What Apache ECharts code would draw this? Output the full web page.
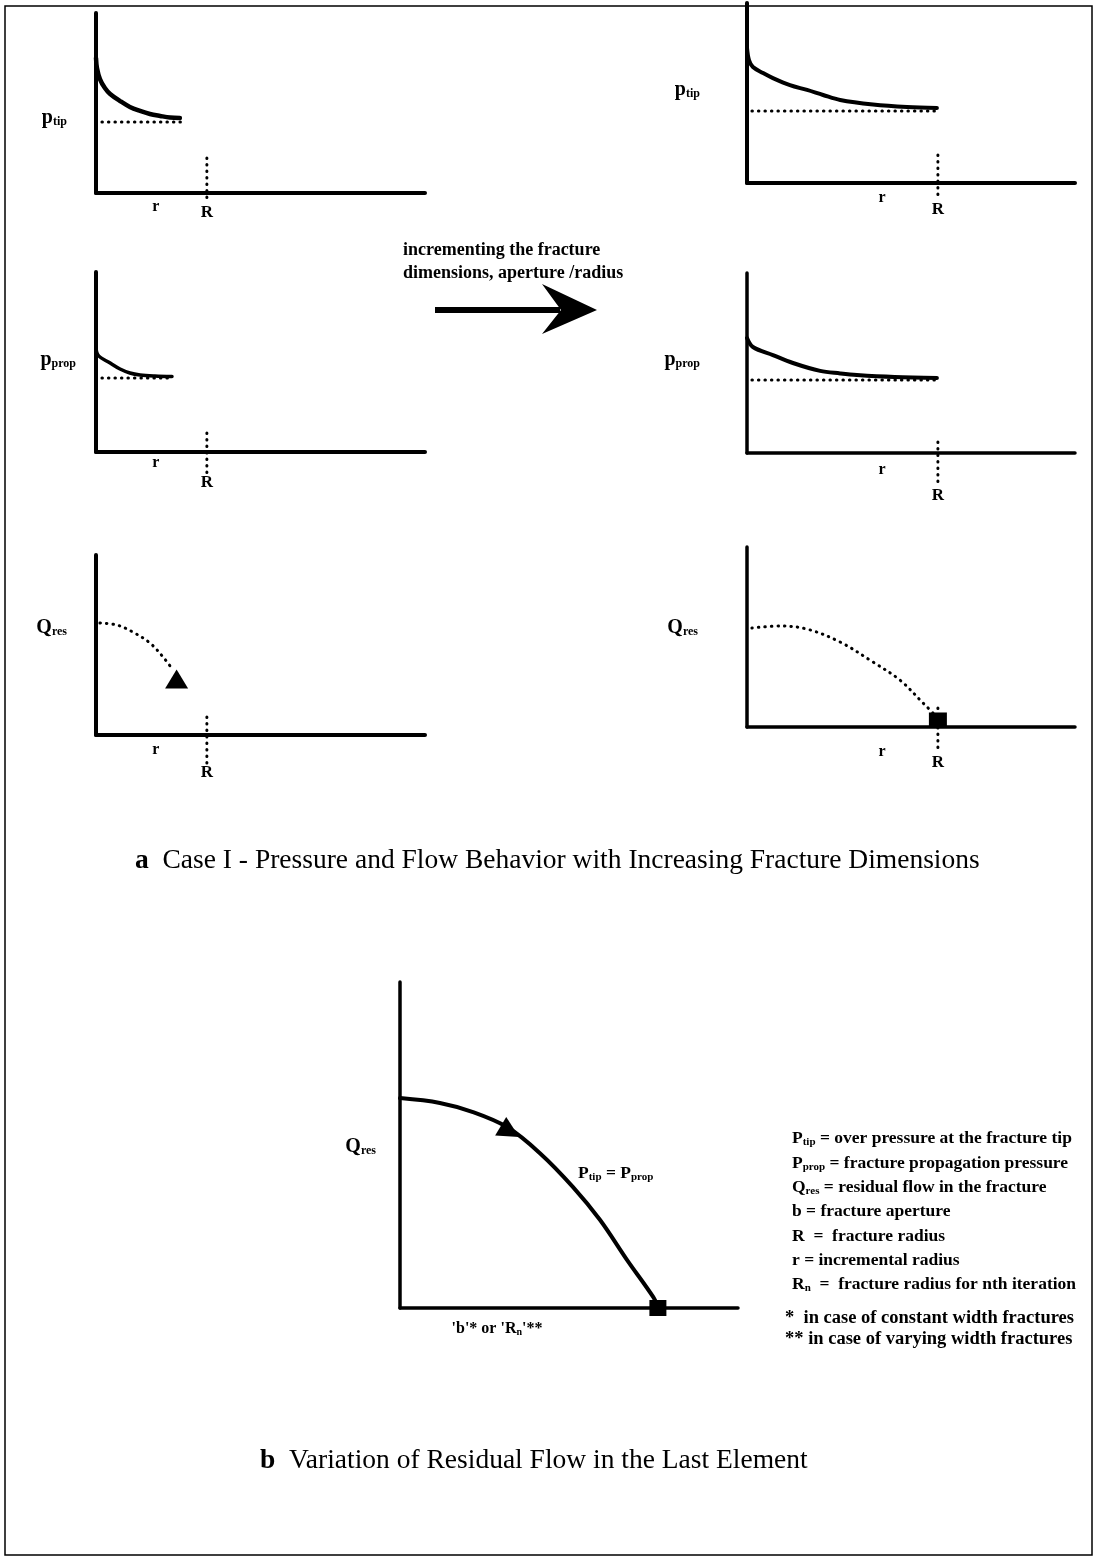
<!DOCTYPE html>
<html>
<head>
<meta charset="utf-8">
<script src="https://cdn.jsdelivr.net/npm/echarts@6/dist/echarts.min.js"></script>
<style>
  html, body { margin: 0; padding: 0; background: #fff; }
  #chart { width: 1095px; height: 1558px; }
</style>
</head>
<body>
<div id="chart"></div>
<script>
// ---- values (normalised units: r 0..100 along each axis, pressure/flow 0..100) ----
const radiusSmall = 33.7;          // R before the fracture is enlarged
const radiusLarge = 58.2;          // R after the fracture is enlarged
const rLabelSmall = 18.2;
const rLabelLarge = 41.2;

// tip over-pressure along r
const ptipSmall = [[0,75],[0.3,69.4],[1.2,63.3],[2.7,58.3],[4.3,55],[7.3,51.1],[10.3,47.8],[13.4,45.6],[16.4,43.9],[19.5,42.8],[22.5,41.9],[25.5,41.7]];
const ptipSmallLevel = [[1.8,39.4],[26.1,39.4]];
const ptipLarge = [[0,75],[0.6,68.3],[1.8,64.4],[4.9,61.1],[7.9,58.3],[13.1,54.4],[18.3,51.7],[23.2,48.9],[28.4,46.1],[38.4,43.6],[48.8,42.2],[57.9,41.7]];
const ptipLargeLevel = [[1.5,40],[58.8,40]];

// propagation pressure along r
const ppropSmall = [[0,59.4],[0.6,53.9],[4.3,49.4],[7.3,46.1],[10.3,43.9],[13.4,42.8],[17.9,42.2],[23.1,41.9]];
const ppropSmallLevel = [[1.8,41.1],[23.1,41.1]];
const ppropLarge = [[0,63.9],[1.8,58.9],[7.9,54.4],[14,50],[22.3,45.6],[28.4,44.2],[33.5,43.3],[45,42.2],[57.9,41.7]];
const ppropLargeLevel = [[1.5,40.6],[57.9,40.6]];

// residual flow along r
const qresSmall = [[1.2,62.2],[6.4,61.1],[11.2,57.2],[16.4,51.1],[20.4,43.3],[23.4,36.1]];
const qresSmallEnd = [24.5,31.1];
const qresLarge = [[1.5,55],[10.1,56.1],[18.3,54.4],[28.4,47.2],[38.4,36.1],[46.6,26.1],[53.7,13.3],[56.7,7.8]];
const qresLargeEnd = [58.2,3.9];

// residual flow in the last element vs b / Rn
const qresLast = [[0,64.4],[11.8,62.9],[21.6,60.1],[31.7,55.5],[41.4,47.5],[51.2,37.1],[59.2,27],[67.2,14.7],[74.9,3.4],[76.3,0.3]];
const qresLastArrow = [31.7,55.5];
const qresLastEnd = [76.3,0];
const bAxisLabelAt = 28.7;

// R markers: dotted verticals through the r axis
const rMarkSmall = [[radiusSmall,19.4],[radiusSmall,-5.6]];
const rMarkLarge2 = [[radiusLarge,15.6],[radiusLarge,-9.4]];
const rMarkSmall3 = [[radiusSmall,10.6],[radiusSmall,-11.7]];
const rMarkLarge4 = [[radiusLarge,6.1],[radiusLarge,-18.3]];
const rMarkSmall5 = [[radiusSmall,10],[radiusSmall,-15.6]];
const rMarkLarge6 = [[radiusLarge,10.6],[radiusLarge,-14.4]];

// ---- drawing ----
const FONT = '"Liberation Serif", "Times New Roman", serif';
const BLACK = '#000';
const DOTS = [0.5, 6];

const chart = echarts.init(document.getElementById('chart'), null, { renderer: 'canvas' });

const panels = [
  { left: 96,  top: 13,  width: 329, height: 180, axisW: 4 },
  { left: 747, top: 3,   width: 328, height: 180, axisW: 4 },
  { left: 96,  top: 272, width: 329, height: 180, axisW: 4 },
  { left: 747, top: 273, width: 328, height: 180, axisW: 3.5 },
  { left: 96,  top: 555, width: 329, height: 180, axisW: 4 },
  { left: 747, top: 547, width: 328, height: 180, axisW: 3.5 },
  { left: 400, top: 982, width: 338, height: 326, axisW: 3.5 }
];

const rich = {
  m: { fontFamily: FONT, fontSize: 20, fontWeight: 'bold', color: BLACK },
  q: { fontFamily: FONT, fontSize: 20, fontWeight: 'bold', color: BLACK },
  s: { fontFamily: FONT, fontSize: 12, fontWeight: 'bold', color: BLACK, padding: [8, 0, 0, 0] },
  r: { fontFamily: FONT, fontSize: 16, fontWeight: 'bold', color: BLACK },
  b: { fontFamily: FONT, fontSize: 17.5, fontWeight: 'bold', color: BLACK },
  bs: { fontFamily: FONT, fontSize: 11, fontWeight: 'bold', color: BLACK, padding: [8, 0, 0, 0] },
  x: { fontFamily: FONT, fontSize: 16, fontWeight: 'bold', color: BLACK },
  xs: { fontFamily: FONT, fontSize: 10, fontWeight: 'bold', color: BLACK, padding: [7, 0, 0, 0] }
};

// y-axis names, placed at a given level with a margin from the axis
const yNames = [
  { at: 41.7, text: '{m|p}{s|tip}', margin: 29 },
  { at: 51.7, text: '{m|p}{s|tip}', margin: 47 },
  { at: 51.1, text: '{m|p}{s|prop}', margin: 20 },
  { at: 51.7, text: '{m|p}{s|prop}', margin: 47 },
  { at: 59.4, text: '{q|Q}{s|res}', margin: 29 },
  { at: 55,   text: '{q|Q}{s|res}', margin: 49 },
  { at: 49.4, text: '{q|Q}{s|res}', margin: 24 }
];
const xNames = [
  { at: rLabelSmall, text: '{r|r}', margin: 6 },
  { at: rLabelLarge, text: '{r|r}', margin: 7 },
  { at: rLabelSmall, text: '{r|r}', margin: 3 },
  { at: rLabelLarge, text: '{r|r}', margin: 9 },
  { at: rLabelSmall, text: '{r|r}', margin: 7 },
  { at: rLabelLarge, text: '{r|r}', margin: 17 },
  { at: bAxisLabelAt, text: "{x|'b'* or 'R}{xs|n}{x|'**}", margin: 12 }
];

const grid = panels.map(p => ({ left: p.left, top: p.top, width: p.width, height: p.height, outerBoundsMode: 'none' }));
const xAxis = panels.map((p, i) => ({
  type: 'value', gridIndex: i, min: 0, max: 100,
  splitLine: { show: false }, axisTick: { show: false },
  axisLine: { show: true, onZero: false, lineStyle: { color: BLACK, width: p.axisW } },
  axisLabel: { customValues: [xNames[i].at], margin: xNames[i].margin, formatter: () => xNames[i].text, rich }
}));
const yAxis = panels.map((p, i) => ({
  type: 'value', gridIndex: i, min: 0, max: 100,
  splitLine: { show: false }, axisTick: { show: false },
  axisLine: { show: true, onZero: false, lineStyle: { color: BLACK, width: p.axisW } },
  axisLabel: { customValues: [yNames[i].at], margin: yNames[i].margin, formatter: () => yNames[i].text, rich }
}));

function curve(idx, data, width, dotted) {
  return {
    type: 'line', xAxisIndex: idx, yAxisIndex: idx, data, smooth: 0.35,
    showSymbol: false, silent: true, animation: false, z: 3,
    lineStyle: dotted
      ? { color: BLACK, width: 3, type: DOTS, cap: 'round' }
      : { color: BLACK, width, cap: 'round', join: 'round' }
  };
}
function level(idx, data) {
  return {
    type: 'line', xAxisIndex: idx, yAxisIndex: idx, data, showSymbol: false, silent: true,
    animation: false, z: 3, lineStyle: { color: BLACK, width: 3, type: DOTS, cap: 'round' }
  };
}
// dotted R line plus its "R" label under the lower end
function rMark(idx, data) {
  return [{
    type: 'line', xAxisIndex: idx, yAxisIndex: idx, data, clip: false, silent: true,
    animation: false, z: 4, showSymbol: false,
    lineStyle: { color: BLACK, width: 3, type: DOTS, cap: 'round' }
  }, {
    type: 'scatter', xAxisIndex: idx, yAxisIndex: idx, data: [data[data.length - 1]],
    symbolSize: 1, clip: false, silent: true, animation: false, z: 4,
    itemStyle: { color: 'rgba(0,0,0,0)', opacity: 1 },
    label: { show: true, position: 'bottom', distance: 1, formatter: 'R',
      fontFamily: FONT, fontSize: 17, fontWeight: 'bold', color: BLACK, opacity: 1 }
  }];
}
function marker(idx, pos, symbol, size) {
  return {
    type: 'scatter', xAxisIndex: idx, yAxisIndex: idx, data: [pos], symbol, symbolSize: size,
    clip: false, silent: true, animation: false, z: 5,
    itemStyle: { color: BLACK, opacity: 1 }
  };
}
// arrowhead pointing down the curve
const ARROWHEAD = 'path://M11.1,0.4 L23,19 L0.9,17.6 Z';

const series = [
  curve(0, ptipSmall, 4.5), level(0, ptipSmallLevel), ...rMark(0, rMarkSmall),
  curve(1, ptipLarge, 4), level(1, ptipLargeLevel), ...rMark(1, rMarkLarge2),
  curve(2, ppropSmall, 3.5), level(2, ppropSmallLevel), ...rMark(2, rMarkSmall3),
  curve(3, ppropLarge, 4), level(3, ppropLargeLevel), ...rMark(3, rMarkLarge4),
  curve(4, qresSmall, 3, true), marker(4, qresSmallEnd, 'triangle', [23, 19]), ...rMark(4, rMarkSmall5),
  curve(5, qresLarge, 3, true), marker(5, qresLargeEnd, 'rect', [18, 15]), ...rMark(5, rMarkLarge6),
  curve(6, qresLast, 4), marker(6, qresLastArrow, ARROWHEAD, [24, 20]), marker(6, qresLastEnd, 'rect', [17, 16])
];

function txt(x, y, text, style) {
  return { type: 'text', x, y, silent: true,
    style: Object.assign({ text, fill: BLACK, font: 'bold 18px ' + FONT, verticalAlign: 'middle' }, style || {}) };
}
function richTxt(x, y, text, r) {
  return { type: 'text', x, y, silent: true,
    style: { text, rich: r || rich, verticalAlign: 'middle', fill: BLACK } };
}

const legendLines = [
  '{b|P}{bs|tip}{b| = over pressure at the fracture tip}',
  '{b|P}{bs|prop}{b| = fracture propagation pressure}',
  '{b|Q}{bs|res}{b| = residual flow in the fracture}',
  '{b|b = fracture aperture}',
  '{b|R  =  fracture radius}',
  '{b|r = incremental radius}',
  '{b|R}{bs|n}{b|  =  fracture radius for nth iteration}'
];
const legendY = [1138, 1163, 1187, 1211, 1236, 1260, 1284];

const captionRich = {
  a: { fontFamily: FONT, fontSize: 27.5, fontWeight: 'bold', color: BLACK },
  c: { fontFamily: FONT, fontSize: 27.5, color: BLACK }
};

const graphic = [
  { type: 'rect', shape: { x: 5, y: 6, width: 1087, height: 1549 }, silent: true,
    style: { fill: 'none', stroke: BLACK, lineWidth: 1.5 } },
  // enlargement arrow
  txt(403, 250, 'incrementing the fracture'),
  txt(403, 273, 'dimensions, aperture /radius'),
  { type: 'rect', shape: { x: 435, y: 307, width: 125, height: 6 }, silent: true, style: { fill: BLACK } },
  { type: 'polygon', shape: { points: [[597, 310], [542, 284], [561, 310], [542, 334]] }, silent: true, style: { fill: BLACK } },
  // panel b curve label
  richTxt(578, 1173, '{b|P}{bs|tip}{b| = P}{bs|prop}'),
  // captions
  richTxt(135, 861, '{a|a}{c|  Case I - Pressure and Flow Behavior with Increasing Fracture Dimensions}', captionRich),
  richTxt(260, 1461, '{a|b}{c|  Variation of Residual Flow in the Last Element}', captionRich),
  txt(785, 1318, '*  in case of constant width fractures', { font: 'bold 18.5px ' + FONT }),
  txt(785, 1339, '** in case of varying width fractures', { font: 'bold 18.5px ' + FONT })
].concat(legendLines.map((t, k) => richTxt(792, legendY[k], t)));

chart.setOption({
  backgroundColor: '#fff',
  animation: false,
  grid, xAxis, yAxis, series, graphic
});
</script>
</body>
</html>
